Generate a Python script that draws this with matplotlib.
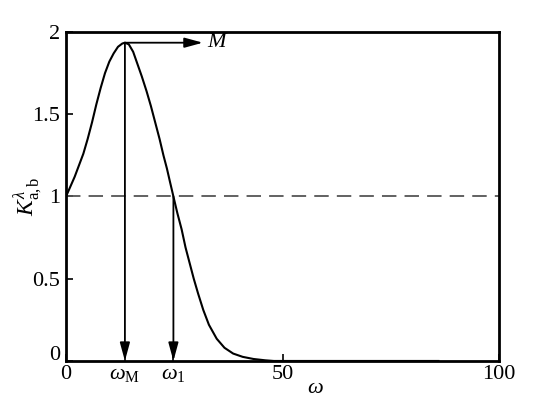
import matplotlib
matplotlib.use("Agg")
import matplotlib.pyplot as plt
from matplotlib.transforms import ScaledTranslation

omega = [0, 1, 2, 3, 4, 5, 6, 7, 8, 9, 10, 11, 12, 13, 13.6,
         14.5, 15.5, 16.3, 17.5, 18.6, 19.6, 20.6, 21.6, 22.5, 23.3, 24.0, 24.8,
         25.7, 26.7, 27.6, 28.6, 29.5, 30.5, 31.7, 33.0, 34.8, 36.6, 38.6, 40.8,
         43.3, 46.0, 48.0, 60.0, 70.0, 86.0]
K = [1.0, 1.06, 1.12, 1.19, 1.26, 1.35, 1.45, 1.56, 1.66, 1.75, 1.82, 1.87, 1.91, 1.93, 1.935,
     1.925, 1.88, 1.82, 1.73, 1.64, 1.55, 1.45, 1.35, 1.25, 1.17, 1.09, 1.0,
     0.90, 0.80, 0.69, 0.59, 0.50, 0.41, 0.31, 0.22, 0.135, 0.08, 0.045, 0.025,
     0.012, 0.004, 0.0, 0.0, 0.0, 0.0]

omega_M = 13.6
K_M = 1.935
omega_1 = 24.8
M_arrow_end = 31.6

xtick_pos = [0, omega_M, omega_1, 50, 100]
xtick_labels = ["0", r"$\omega_{\mathrm{M}}$", r"$\omega_1$", "50", "100"]
ytick_pos = [0, 0.5, 1, 1.5, 2]
ytick_labels = ["0", "0.5", "1", "1.5", "2"]

plt.rcParams['font.family'] = ['Liberation Serif', 'DejaVu Serif']
plt.rcParams['mathtext.fontset'] = 'custom'
plt.rcParams['mathtext.rm'] = 'Liberation Serif'
plt.rcParams['mathtext.it'] = 'Liberation Serif:italic'

fig = plt.figure(figsize=(5.47, 4.13), dpi=100)
ax = fig.add_axes([0.1207, 0.126, 0.7916, 0.7965])

ax.plot(omega, K, color='black', lw=1.5, solid_joinstyle='round')
ax.axhline(1.0, color='#555555', lw=1.3, ls=(0, (8, 4.5)))

arrowprops = dict(arrowstyle='-|>,head_length=1.1,head_width=0.3', color='black', lw=1.3,
                  shrinkA=0, shrinkB=0)
ax.annotate('', xy=(omega_M, 0), xytext=(omega_M, K_M), arrowprops=arrowprops)
ax.annotate('', xy=(omega_1, 0), xytext=(omega_1, 1.0), arrowprops=arrowprops)
ax.annotate('', xy=(M_arrow_end, K_M), xytext=(omega_M, K_M), arrowprops=arrowprops)
ax.text(M_arrow_end + 1.0, K_M, r'$M$', fontsize=16, va='center', ha='left')

ax.set_xlim(0, 100)
ax.set_ylim(0, 2)
ax.set_xticks(xtick_pos)
ax.set_xticklabels(xtick_labels, fontsize=16)
ax.set_yticks(ytick_pos)
ax.set_yticklabels(ytick_labels, fontsize=16)
ax.tick_params(direction='in', length=5, width=1.2)
ax.tick_params(axis='y', pad=4)
ax.tick_params(axis='x', pad=3)
for s in ax.spines.values():
    s.set_linewidth(2)

# nudge the y-axis "0" upward as in the reference
lbl0 = ax.get_yticklabels()[0]
lbl0.set_transform(lbl0.get_transform() + ScaledTranslation(0, 6 / 72, fig.dpi_scale_trans))

ax.set_xlabel(r'$\omega$', fontsize=16)
ax.xaxis.set_label_coords(0.575, -0.055)
ax.set_ylabel(r'$K^{\lambda}_{\mathrm{a,b}}$', fontsize=17)
ax.yaxis.set_label_coords(-0.05, 0.5)

fig.savefig('out.png', dpi=100)
